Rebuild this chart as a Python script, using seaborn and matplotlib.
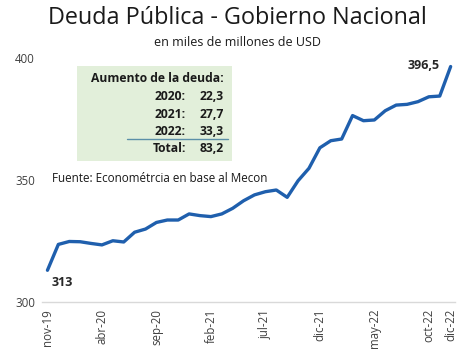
import matplotlib
matplotlib.use("Agg")
import matplotlib.pyplot as plt
import pandas as pd
import seaborn as sns

# datos mensuales (nov-19 a dic-22), miles de millones de USD
meses = ["nov-19", "dic-19", "ene-20", "feb-20", "mar-20", "abr-20", "may-20", "jun-20",
         "jul-20", "ago-20", "sep-20", "oct-20", "nov-20", "dic-20", "ene-21", "feb-21",
         "mar-21", "abr-21", "may-21", "jun-21", "jul-21", "ago-21", "sep-21", "oct-21",
         "nov-21", "dic-21", "ene-22", "feb-22", "mar-22", "abr-22", "may-22", "jun-22",
         "jul-22", "ago-22", "sep-22", "oct-22", "nov-22", "dic-22"]
deuda = [313.0, 323.6, 324.8, 324.7, 324.0, 323.4, 325.1, 324.6, 328.6, 329.9,
         332.6, 333.6, 333.6, 336.1, 335.4, 335.0, 336.1, 338.4, 341.5, 343.9,
         345.2, 345.9, 342.9, 349.7, 354.8, 363.2, 366.1, 366.8, 376.4, 374.3,
         374.6, 378.4, 380.7, 381.0, 382.1, 384.1, 384.4, 396.5]
ticks_mostrados = ["nov-19", "abr-20", "sep-20", "feb-21", "jul-21", "dic-21",
                   "may-22", "oct-22", "dic-22"]

anios_tabla = ["2020:", "2021:", "2022:"]
aumentos = ["22,3", "27,7", "33,3"]
total = "83,2"

df = pd.DataFrame({"mes": range(len(meses)), "deuda": deuda})

sns.set_style("white")
plt.rcParams["font.family"] = ["Open Sans", "DejaVu Sans"]

fig = plt.figure(figsize=(4.74, 3.54), dpi=100)
ax = fig.add_axes([42 / 474, 1 - 302 / 354, 413 / 474, 244 / 354])

azul = "#1f5fad"
sns.lineplot(data=df, x="mes", y="deuda", color=azul, linewidth=2.4, ax=ax)

ax.set_ylim(300, 400)
ax.set_xlim(-0.5, len(meses) - 0.6)
ax.set_yticks([300, 350, 400])
ax.set_yticklabels(["300", "350", "400"], fontsize=8.3, color="#404040")
pos = [meses.index(m) for m in ticks_mostrados]
ax.set_xticks(pos)
ax.set_xticklabels(ticks_mostrados, rotation=90, fontsize=8.3, color="#404040")
ax.tick_params(axis="y", length=0, pad=5)
ax.tick_params(axis="x", length=0, pad=5)
ax.set_xlabel("")
ax.set_ylabel("")
for s in ["top", "right", "left"]:
    ax.spines[s].set_visible(False)
ax.spines["bottom"].set_color("#d9d9d9")
ax.spines["bottom"].set_linewidth(1)

# etiquetas de inicio y fin
ax.annotate("313", (0, deuda[0]), xytext=(3, -9), textcoords="offset points",
            fontsize=9, fontweight="bold", ha="left", va="center", color="#262626")
ax.annotate("396,5", (len(meses) - 1, deuda[-1]), xytext=(-8, 1), textcoords="offset points",
            fontsize=9, fontweight="bold", ha="right", va="center", color="#262626")

# titulos
fig.text(0.5, 1 - 18 / 354, "Deuda Pública - Gobierno Nacional", ha="center", va="center",
         fontsize=16.8, color="#1a1a1a")
fig.text(0.5, 1 - 42 / 354, "en miles de millones de USD", ha="center", va="center",
         fontsize=9, color="#1a1a1a")

# cuadro de aumento de la deuda
caja = plt.Rectangle((77 / 474, 1 - 161 / 354), 155 / 474, 95 / 354, transform=fig.transFigure,
                     facecolor="#e2efda", edgecolor="none", zorder=0)
fig.patches.append(caja)
fig.text(224 / 474, 1 - 79 / 354, "Aumento de la deuda:", ha="right", va="center",
         fontsize=8.7, fontweight="bold", color="#1a1a1a")
for i, (a, v) in enumerate(zip(anios_tabla, aumentos)):
    y = 1 - (97 + i * 17.3) / 354
    fig.text(186 / 474, y, a, ha="right", va="center", fontsize=8.7, fontweight="bold", color="#1a1a1a")
    fig.text(224 / 474, y, v, ha="right", va="center", fontsize=8.7, fontweight="bold", color="#1a1a1a")
y = 1 - 148.5 / 354
fig.text(186 / 474, y, "Total:", ha="right", va="center", fontsize=8.7, fontweight="bold", color="#1a1a1a")
fig.text(224 / 474, y, total, ha="right", va="center", fontsize=8.7, fontweight="bold", color="#1a1a1a")
fig.lines.append(plt.Line2D([127 / 474, 228 / 474], [1 - 139 / 354, 1 - 139 / 354],
                            transform=fig.transFigure, color="#5b8fa8", linewidth=1))

fig.text(52 / 474, 1 - 178 / 354, "Fuente: Econométrcia en base al Mecon", ha="left", va="center",
         fontsize=8.4, color="#1a1a1a")

fig.savefig("out.png", dpi=100)
